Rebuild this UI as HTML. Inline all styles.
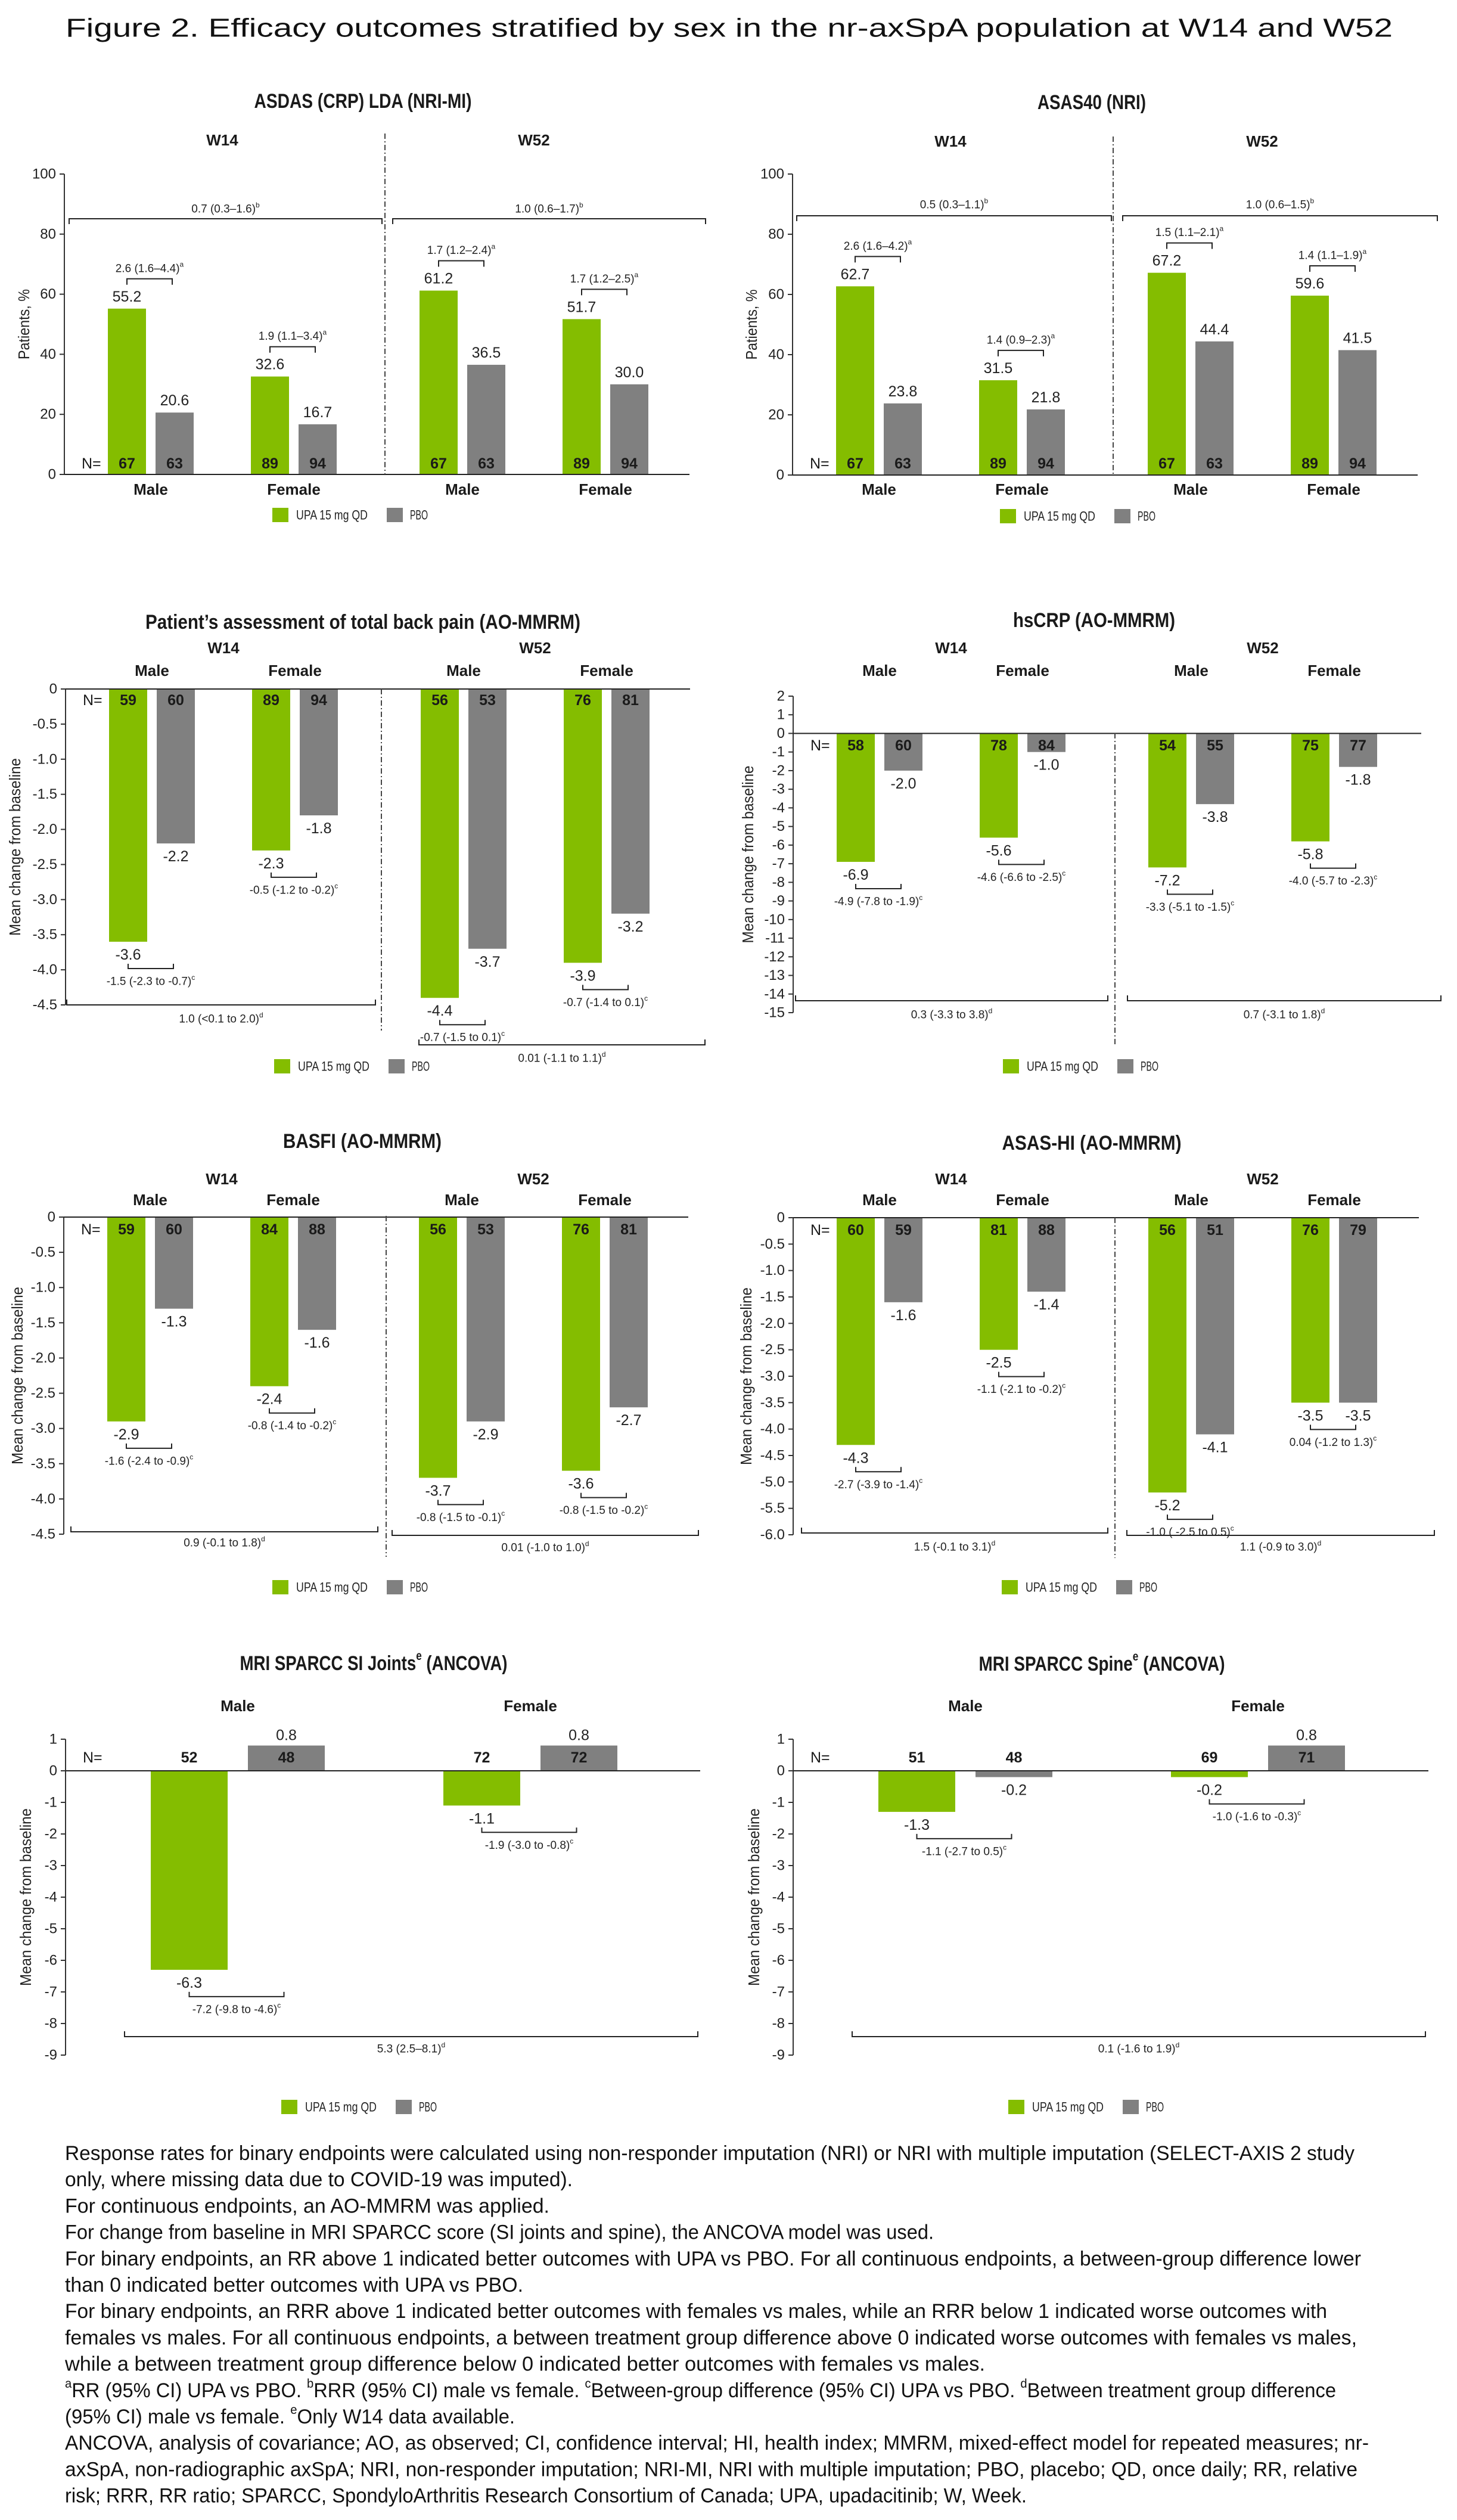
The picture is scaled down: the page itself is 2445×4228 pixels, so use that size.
<!DOCTYPE html>
<html><head><meta charset="utf-8"><title>Figure 2 efficacy outcomes by sex</title>
<style>
html,body{margin:0;padding:0;background:#fff;}
svg{display:block;font-family:"Liberation Sans Narrow","Liberation Sans",sans-serif;}
</style></head>
<body>
<svg id="fig" xmlns="http://www.w3.org/2000/svg" width="2445" height="4228" viewBox="0 0 2445 4228">
<rect x="0" y="0" width="2445" height="4228" fill="#fff"/>
<text x="110" y="47" font-size="44" fill="#111" dominant-baseline="central" textLength="2227" lengthAdjust="spacingAndGlyphs">Figure 2. Efficacy outcomes stratified by sex in the nr-axSpA population at W14 and W52</text>
</svg>
<script>
// ---- data ----
const groups4 = ['Male','Female','Male','Female'];
const weeks = ['W14','W52'];
const asdasUpa = [55.2, 32.6, 61.2, 51.7];
const asdasPbo = [20.6, 16.7, 36.5, 30.0];
const asdasNUpa = [67, 89, 67, 89];
const asdasNPbo = [63, 94, 63, 94];
const asdasRR = ['2.6 (1.6–4.4)', '1.9 (1.1–3.4)', '1.7 (1.2–2.4)', '1.7 (1.2–2.5)'];
const asdasRRR = ['0.7 (0.3–1.6)', '1.0 (0.6–1.7)'];
const asas40Upa = [62.7, 31.5, 67.2, 59.6];
const asas40Pbo = [23.8, 21.8, 44.4, 41.5];
const asas40NUpa = [67, 89, 67, 89];
const asas40NPbo = [63, 94, 63, 94];
const asas40RR = ['2.6 (1.6–4.2)', '1.4 (0.9–2.3)', '1.5 (1.1–2.1)', '1.4 (1.1–1.9)'];
const asas40RRR = ['0.5 (0.3–1.1)', '1.0 (0.6–1.5)'];
const painUpa = [-3.6, -2.3, -4.4, -3.9];
const painPbo = [-2.2, -1.8, -3.7, -3.2];
const painNUpa = [59, 89, 56, 76];
const painNPbo = [60, 94, 53, 81];
const painDiff = ['-1.5 (-2.3 to -0.7)', '-0.5 (-1.2 to -0.2)', '-0.7 (-1.5 to 0.1)', '-0.7 (-1.4 to 0.1)'];
const painSex = ['1.0 (<0.1 to 2.0)', '0.01 (-1.1 to 1.1)'];
const crpUpa = [-6.9, -5.6, -7.2, -5.8];
const crpPbo = [-2.0, -1.0, -3.8, -1.8];
const crpNUpa = [58, 78, 54, 75];
const crpNPbo = [60, 84, 55, 77];
const crpDiff = ['-4.9 (-7.8 to -1.9)', '-4.6 (-6.6 to -2.5)', '-3.3 (-5.1 to -1.5)', '-4.0 (-5.7 to -2.3)'];
const crpSex = ['0.3 (-3.3 to 3.8)', '0.7 (-3.1 to 1.8)'];
const basfiUpa = [-2.9, -2.4, -3.7, -3.6];
const basfiPbo = [-1.3, -1.6, -2.9, -2.7];
const basfiNUpa = [59, 84, 56, 76];
const basfiNPbo = [60, 88, 53, 81];
const basfiDiff = ['-1.6 (-2.4 to -0.9)', '-0.8 (-1.4 to -0.2)', '-0.8 (-1.5 to -0.1)', '-0.8 (-1.5 to -0.2)'];
const basfiSex = ['0.9 (-0.1 to 1.8)', '0.01 (-1.0 to 1.0)'];
const hiUpa = [-4.3, -2.5, -5.2, -3.5];
const hiPbo = [-1.6, -1.4, -4.1, -3.5];
const hiNUpa = [60, 81, 56, 76];
const hiNPbo = [59, 88, 51, 79];
const hiDiff = ['-2.7 (-3.9 to -1.4)', '-1.1 (-2.1 to -0.2)', '-1.0 ( -2.5 to 0.5)', '0.04 (-1.2 to 1.3)'];
const hiSex = ['1.5 (-0.1 to 3.1)', '1.1 (-0.9 to 3.0)'];
const groups2 = ['Male','Female'];
const siUpa = [-6.3, -1.1];
const siPbo = [0.8, 0.8];
const siNUpa = [52, 72];
const siNPbo = [48, 72];
const siDiff = ['-7.2 (-9.8 to -4.6)', '-1.9 (-3.0 to -0.8)'];
const siSex = ['5.3 (2.5–8.1)'];
const spUpa = [-1.3, -0.2];
const spPbo = [-0.2, 0.8];
const spNUpa = [51, 69];
const spNPbo = [48, 71];
const spDiff = ['-1.1 (-2.7 to 0.5)', '-1.0 (-1.6 to -0.3)'];
const spSex = ['0.1 (-1.6 to 1.9)'];
const ticksPct = [0, 20, 40, 60, 80, 100];
const ticksHalf45 = [0, -0.5, -1, -1.5, -2, -2.5, -3, -3.5, -4, -4.5];
const ticksHalf6 = [0, -0.5, -1, -1.5, -2, -2.5, -3, -3.5, -4, -4.5, -5, -5.5, -6];
const ticksCrp = [2, 1, 0, -1, -2, -3, -4, -5, -6, -7, -8, -9, -10, -11, -12, -13, -14, -15];
const ticksMri = [1, 0, -1, -2, -3, -4, -5, -6, -7, -8, -9];

const NS = 'http://www.w3.org/2000/svg';
const root = document.getElementById('fig');
const GREEN = '#84bd00', GRAY = '#808080', INK = '#1a1a1a';

function mk(tag, attrs, name, parent) {
  const el = document.createElementNS(NS, tag);
  for (const k in attrs) el.setAttribute(k, attrs[k]);
  
  
  (parent || root).appendChild(el);
  return el;
}
function txt(x, y, str, size, name, opt) {
  opt = opt || {};
  const a = {x: x, y: y, 'font-size': size, fill: opt.fill || INK, 'text-anchor': opt.anchor || 'middle', 'dominant-baseline': 'central'};
  if (opt.bold) a['font-weight'] = 'bold';
  if (opt.len) { a.textLength = opt.len; a.lengthAdjust = 'spacingAndGlyphs'; }
  if (opt.transform) a.transform = opt.transform;
  const t = mk('text', a, name);
  if (opt.sup) {
    t.appendChild(document.createTextNode(str));
    const s = document.createElementNS(NS, 'tspan');
    s.setAttribute('font-size', Math.round(size * 0.62));
    s.setAttribute('dy', -size * 0.38);
    s.textContent = opt.sup;
    t.appendChild(s);
  } else {
    t.textContent = str;
  }
  return t;
}
function fmtTick(v, dec) { return v === 0 ? '0' : v.toFixed(dec); }

function drawPanel(c) {
  const y = v => c.yTop + (c.vmax - v) / (c.vmax - c.vmin) * (c.yBot - c.yTop);
  const ng = c.groups.length;
  const barX = (g, s) => c.ax + c.gStart[g] + s * c.step;
  const cx = (g, s) => barX(g, s) + c.bw / 2;
  // title
  const tt = txt(c.title[0], c.title[1], c.title[3], 34, c.id + '-title', {bold: true, len: c.title[2], sup: c.title[4]});
  if (c.title[4]) { const t2 = document.createElementNS(NS, 'tspan'); t2.setAttribute('dy', 34 * 0.38); t2.textContent = ' ' + c.title[5]; tt.appendChild(t2); }
  // axis title
  txt(c.axTitleX, (c.yTop + c.yBot) / 2, c.axTitle, 26, c.id + '-y-axis-title', {transform: 'rotate(-90 ' + c.axTitleX + ' ' + (c.yTop + c.yBot) / 2 + ')', len: c.axTitleLen, fill: '#222'});
  // ticks
  c.ticks.forEach(v => {
    mk('line', {x1: c.ax - 8, x2: c.ax, y1: y(v), y2: y(v), stroke: '#333', 'stroke-width': 2}, c.id + '-tick');
    txt(c.ax - 14, y(v), fmtTick(v, c.dec), 24, c.id + '-tick-label', {anchor: 'end', fill: '#222'});
  });
  // bars
  for (let g = 0; g < ng; g++) {
    [[c.upa, GREEN, 'upa'], [c.pbo, GRAY, 'pbo']].forEach((sr, s) => {
      const v = sr[0][g];
      const top = Math.min(y(v), y(0)), h = Math.abs(y(v) - y(0));
      mk('rect', {x: barX(g, s), y: top, width: c.bw, height: h, fill: sr[1]}, c.id + '-bar-' + sr[2] + '-' + g);
      const ly = c.bin ? y(v) - 20 : (v < 0 ? y(v) + 22 : y(v) - 17);
      txt(cx(g, s), ly, v.toFixed(1), 25, c.id + '-value-label', {fill: '#222'});
      const n = s === 0 ? c.nU[g] : c.nP[g];
      txt(cx(g, s), c.nY, String(n), 25, c.id + '-n-label', {bold: true});
    });
    // comparison bracket
    const x1 = cx(g, 0), x2 = cx(g, 1) - 4;
    let yb, d, ly;
    if (c.bin) { yb = y(Math.max(c.upa[g], c.pbo[g])) - 50; d = 10; ly = yb - 17; }
    else { yb = y(Math.min(c.upa[g], c.pbo[g])) + 45; d = -8; ly = yb + 22; }
    mk('path', {d: 'M' + x1 + ' ' + (yb + d) + ' V' + yb + ' H' + x2 + ' V' + (yb + d), fill: 'none', stroke: '#222', 'stroke-width': 2}, c.id + '-comparison-bracket');
    txt((x1 + x2) / 2, ly, c.cmp[g], 19, c.id + '-comparison-label', {sup: c.bin ? 'a' : 'c', fill: '#222'});
    // group label
    txt((cx(g, 0) + cx(g, 1)) / 2, c.sexY, c.groups[g], 26, c.id + '-group-label', {bold: true});
  }
  txt(c.ax + 29, c.nY, 'N=', 25, c.id + '-n-equals', {anchor: 'start'});
  // axes
  mk('line', {x1: c.ax, x2: c.ax, y1: c.yTop, y2: c.yBot, stroke: '#333', 'stroke-width': 2}, c.id + '-y-axis');
  mk('line', {x1: c.ax, x2: c.axEnd, y1: y(0), y2: y(0), stroke: '#222', 'stroke-width': 2}, c.id + '-zero-line');
  // week labels
  if (c.wY) {
    for (let w = 0; w < 2; w++) {
      const mx = (cx(2 * w, 0) + cx(2 * w + 1, 1)) / 2;
      txt(mx, c.wY, weeks[w], 26, c.id + '-week-label', {bold: true});
    }
  }
  if (c.div) mk('line', {x1: c.div[0], x2: c.div[0], y1: c.div[1], y2: c.div[2], stroke: '#444', 'stroke-width': 2, 'stroke-dasharray': '9 4 2 4'}, c.id + '-week-divider');
  // sex brackets
  c.sexBr.forEach((b, i) => {
    const d = c.bin ? 9 : -9;
    mk('path', {d: 'M' + b[0] + ' ' + (b[2] + d) + ' V' + b[2] + ' H' + b[1] + ' V' + (b[2] + d), fill: 'none', stroke: '#222', 'stroke-width': 2}, c.id + '-sex-bracket');
    txt((b[0] + b[1]) / 2, b[3], c.sex[i], 19, c.id + '-sex-label', {sup: c.bin ? 'b' : 'd', fill: '#222'});
  });
  // legend
  const lx = c.ax + c.legOff;
  mk('rect', {x: lx, y: c.legY - 12, width: 27, height: 24, fill: GREEN}, c.id + '-legend-swatch-upa');
  txt(lx + 40, c.legY, 'UPA 15 mg QD', 22, c.id + '-legend-label-upa', {anchor: 'start', len: 120, fill: '#222'});
  mk('rect', {x: lx + 192, y: c.legY - 12, width: 27, height: 24, fill: GRAY}, c.id + '-legend-swatch-pbo');
  txt(lx + 231, c.legY, 'PBO', 22, c.id + '-legend-label-pbo', {anchor: 'start', len: 30, fill: '#222'});
}

const g4 = [73, 313, 596, 836];
const base4 = {groups: groups4, gStart: g4, step: 80, bw: 64};
const mt = 'Mean change from baseline';
drawPanel(Object.assign({}, base4, {id: 'asdas', bin: true, ax: 108, axEnd: 1157, vmin: 0, vmax: 100, yTop: 292, yBot: 796, ticks: ticksPct, dec: 0,
  title: [609, 170, 365, 'ASDAS (CRP) LDA (NRI-MI)'], axTitle: 'Patients, %', axTitleX: 40, axTitleLen: 118,
  upa: asdasUpa, pbo: asdasPbo, nU: asdasNUpa, nP: asdasNPbo, cmp: asdasRR, sex: asdasRRR, nY: 778, sexY: 821, wY: 235,
  div: [646, 224, 796], sexBr: [[116, 641, 367, 351], [659, 1184, 367, 351]], legY: 864, legOff: 349}));
drawPanel(Object.assign({}, base4, {id: 'asas40', bin: true, ax: 1330, axEnd: 2379, vmin: 0, vmax: 100, yTop: 292, yBot: 797, ticks: ticksPct, dec: 0,
  title: [1832, 172, 182, 'ASAS40 (NRI)'], axTitle: 'Patients, %', axTitleX: 1261, axTitleLen: 118,
  upa: asas40Upa, pbo: asas40Pbo, nU: asas40NUpa, nP: asas40NPbo, cmp: asas40RR, sex: asas40RRR, nY: 778, sexY: 821, wY: 237,
  div: [1868, 229, 797], sexBr: [[1337, 1865, 362, 344], [1884, 2412, 362, 344]], legY: 866, legOff: 348}));
drawPanel(Object.assign({}, base4, {id: 'back-pain', bin: false, ax: 110, axEnd: 1158, vmin: -4.5, vmax: 0, yTop: 1156, yBot: 1686, ticks: ticksHalf45, dec: 1,
  title: [609, 1044, 730, 'Patient\u2019s assessment of total back pain (AO-MMRM)'], axTitle: mt, axTitleX: 25, axTitleLen: 298,
  upa: painUpa, pbo: painPbo, nU: painNUpa, nP: painNPbo, cmp: painDiff, sex: painSex, nY: 1175, sexY: 1125, wY: 1087,
  div: [640, 1156, 1729], sexBr: [[112, 630, 1686, 1710], [703, 1183, 1753, 1776]], legY: 1789, legOff: 350}));
drawPanel(Object.assign({}, base4, {id: 'hscrp', bin: false, ax: 1331, axEnd: 2385, vmin: -15, vmax: 2, yTop: 1168, yBot: 1699, ticks: ticksCrp, dec: 0,
  title: [1836, 1041, 272, 'hsCRP (AO-MMRM)'], axTitle: mt, axTitleX: 1255, axTitleLen: 298,
  upa: crpUpa, pbo: crpPbo, nU: crpNUpa, nP: crpNPbo, cmp: crpDiff, sex: crpSex, nY: 1251, sexY: 1125, wY: 1087,
  div: [1871, 1230, 1753], sexBr: [[1335, 1859, 1679, 1703], [1892, 2418, 1679, 1703]], legY: 1789, legOff: 352}));
drawPanel(Object.assign({}, base4, {id: 'basfi', bin: false, ax: 107, axEnd: 1155, vmin: -4.5, vmax: 0, yTop: 2042, yBot: 2574, ticks: ticksHalf45, dec: 1,
  title: [608, 1915, 266, 'BASFI (AO-MMRM)'], axTitle: mt, axTitleX: 29, axTitleLen: 298,
  upa: basfiUpa, pbo: basfiPbo, nU: basfiNUpa, nP: basfiNPbo, cmp: basfiDiff, sex: basfiSex, nY: 2063, sexY: 2013, wY: 1978,
  div: [648, 2040, 2612], sexBr: [[119, 634, 2570, 2589], [658, 1172, 2576, 2597]], legY: 2663, legOff: 350}));
drawPanel(Object.assign({}, base4, {id: 'asas-hi', bin: false, ax: 1331, axEnd: 2381, vmin: -6, vmax: 0, yTop: 2043, yBot: 2575, ticks: ticksHalf6, dec: 1,
  title: [1832, 1918, 301, 'ASAS-HI (AO-MMRM)'], axTitle: mt, axTitleX: 1252, axTitleLen: 298,
  upa: hiUpa, pbo: hiPbo, nU: hiNUpa, nP: hiNPbo, cmp: hiDiff, sex: hiSex, nY: 2064, sexY: 2013, wY: 1978,
  div: [1871, 2043, 2614], sexBr: [[1345, 1859, 2572, 2596], [1891, 2407, 2576, 2596]], legY: 2663, legOff: 350}));
const base2 = {groups: groups2, gStart: [143, 634], step: 163, bw: 129};
drawPanel(Object.assign({}, base2, {id: 'mri-si', bin: false, ax: 110, axEnd: 1175, vmin: -9, vmax: 1, yTop: 2918, yBot: 3448, ticks: ticksMri, dec: 0,
  title: [627, 2791, 449, 'MRI SPARCC SI Joints', 'e', '(ANCOVA)'], axTitle: mt, axTitleX: 43, axTitleLen: 298,
  upa: siUpa, pbo: siPbo, nU: siNUpa, nP: siNPbo, cmp: siDiff, sex: siSex, nY: 2949, sexY: 2862, wY: 0,
  div: null, sexBr: [[209, 1171, 3417, 3438]], legY: 3535, legOff: 362}));
drawPanel(Object.assign({}, base2, {id: 'mri-spine', bin: false, ax: 1331, axEnd: 2397, vmin: -9, vmax: 1, yTop: 2918, yBot: 3448, ticks: ticksMri, dec: 0,
  title: [1849, 2792, 413, 'MRI SPARCC Spine', 'e', '(ANCOVA)'], axTitle: mt, axTitleX: 1265, axTitleLen: 298,
  upa: spUpa, pbo: spPbo, nU: spNUpa, nP: spNPbo, cmp: spDiff, sex: spSex, nY: 2949, sexY: 2862, wY: 0,
  div: null, sexBr: [[1430, 2392, 3417, 3438]], legY: 3535, legOff: 361}));

// ---- footnotes ----
const footLines = [
  [['Response rates for binary endpoints were calculated using non-responder imputation (NRI) or NRI with multiple imputation (SELECT-AXIS 2 study']],
  [['only, where missing data due to COVID-19 was imputed).']],
  [['For continuous endpoints, an AO-MMRM was applied.']],
  [['For change from baseline in MRI SPARCC score (SI joints and spine), the ANCOVA model was used.']],
  [['For binary endpoints, an RR above 1 indicated better outcomes with UPA vs PBO. For all continuous endpoints, a between-group difference lower']],
  [['than 0 indicated better outcomes with UPA vs PBO.']],
  [['For binary endpoints, an RRR above 1 indicated better outcomes with females vs males, while an RRR below 1 indicated worse outcomes with']],
  [['females vs males. For all continuous endpoints, a between treatment group difference above 0 indicated worse outcomes with females vs males,']],
  [['while a between treatment group difference below 0 indicated better outcomes with females vs males.']],
  [['a', 1], ['RR (95% CI) UPA vs PBO. '], ['b', 1], ['RRR (95% CI) male vs female. '], ['c', 1], ['Between-group difference (95% CI) UPA vs PBO. '], ['d', 1], ['Between treatment group difference']],
  [['(95% CI) male vs female. '], ['e', 1], ['Only W14 data available.']],
  [['ANCOVA, analysis of covariance; AO, as observed; CI, confidence interval; HI, health index; MMRM, mixed-effect model for repeated measures; nr-']],
  [['axSpA, non-radiographic axSpA; NRI, non-responder imputation; NRI-MI, NRI with multiple imputation; PBO, placebo; QD, once daily; RR, relative']],
  [['risk; RRR, RR ratio; SPARCC, SpondyloArthritis Research Consortium of Canada; UPA, upadacitinib; W, Week.']]
];
const footEnds = [2273, 961, 922, 1567, 2284, 878, 2227, 2277, 1653, 2242, 864, 2297, 2278, 1723];
footLines.forEach((parts, i) => {
  const yy = 3613 + i * 44.2;
  const t = mk('text', {x: 109, y: yy, 'font-size': 34, fill: '#111', 'dominant-baseline': 'central', textLength: footEnds[i] - 109, lengthAdjust: 'spacingAndGlyphs'}, 'footnote-line');
  let up = false;
  parts.forEach(p => {
    const s = document.createElementNS(NS, 'tspan');
    if (p[1]) { s.setAttribute('font-size', 21); s.setAttribute('dy', -12); up = true; }
    else if (up) { s.setAttribute('dy', 12); up = false; }
    s.textContent = p[0];
    t.appendChild(s);
  });
});
</script>
</body></html>
